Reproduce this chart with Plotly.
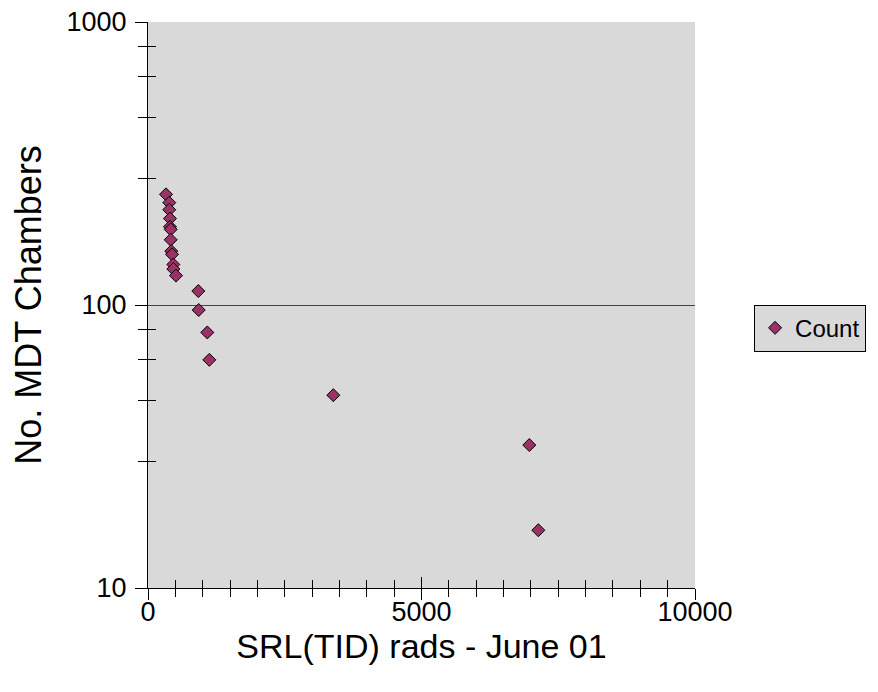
import plotly.graph_objects as go

# Data
srl_rads = [329, 389, 389, 402, 402, 415, 415, 426, 439, 463, 463, 512,
            920, 927, 1084, 1121, 3388, 6971, 7136]
chambers = [246, 230, 217, 202, 189, 185, 170, 155, 151, 139, 134, 127,
            112, 96, 80, 64, 48, 32, 16]
series_name = "Count"

x_major = [0, 5000, 10000]
x_major_text = ["0", "5000", "10000"]
y_major = [10, 100, 1000]
y_major_text = ["10", "100", "1000"]
y_minor = [28, 46, 64, 82, 280, 460, 640, 820]

FONT = "Liberation Sans, Arial, sans-serif"
BG = "#d9d9d9"

fig = go.Figure()
fig.add_trace(go.Scatter(
    x=srl_rads, y=chambers, mode="markers", name=series_name,
    marker=dict(symbol="diamond", size=10, color="#993366",
                line=dict(color="black", width=1)),
))
# invisible overlay trace to carry the opposite-side tick marks
fig.add_trace(go.Scatter(
    x=srl_rads, y=chambers, mode="markers", xaxis="x2", yaxis="y2",
    marker=dict(opacity=0), showlegend=False, hoverinfo="skip",
))

fig.update_layout(
    width=878, height=692,
    margin=dict(l=140, r=191, t=14, b=112),
    paper_bgcolor="white", plot_bgcolor=BG,
    font=dict(family=FONT, color="black", size=27),
    showlegend=True,
    legend=dict(x=1.108, y=0.459, xanchor="left", yanchor="middle",
                bgcolor=BG, bordercolor="black", borderwidth=1,
                font=dict(size=24, family=FONT)),
    xaxis=dict(
        range=[0, 10000], tickmode="array", tickvals=x_major, ticktext=x_major_text,
        ticks="inside", ticklen=11, tickcolor="black", showgrid=False,
        showline=True, linecolor="black", linewidth=1, zeroline=False,
        tickfont=dict(size=27), automargin=False, ticklabeloverflow="allow",
        minor=dict(dtick=500, tick0=0, ticks="inside", ticklen=8, tickcolor="black", showgrid=False),
        title=dict(text="SRL(TID) rads - June 01", font=dict(size=34), standoff=5),
    ),
    yaxis=dict(
        type="log", range=[1, 3], tickmode="array", tickvals=y_major, ticktext=y_major_text,
        ticks="outside", ticklen=12, tickcolor="black", ticklabelstandoff=3,
        showgrid=True, gridcolor="#444444", gridwidth=1,
        showline=True, linecolor="black", linewidth=1, zeroline=False,
        tickfont=dict(size=27), automargin=False, ticklabeloverflow="allow",
        minor=dict(tickmode="array", tickvals=y_minor, ticks="outside", ticklen=9,
                   tickcolor="black", showgrid=False),
        title=dict(text="No. MDT Chambers", font=dict(size=36), standoff=29),
    ),
    xaxis2=dict(
        overlaying="x", side="bottom", anchor="y", range=[0, 10000], tickmode="array",
        tickvals=x_major, showticklabels=False, ticks="outside", ticklen=11, tickcolor="black",
        showgrid=False, zeroline=False, showline=False, automargin=False,
        minor=dict(dtick=500, tick0=0, ticks="outside", ticklen=8, tickcolor="black", showgrid=False),
    ),
    yaxis2=dict(
        overlaying="y", side="left", anchor="x", type="log", range=[1, 3], tickmode="array",
        tickvals=y_major, showticklabels=False, ticks="", showgrid=False, zeroline=False,
        showline=False, automargin=False,
        minor=dict(tickmode="array", tickvals=y_minor, ticks="inside", ticklen=8,
                   tickcolor="black", showgrid=False),
    ),
)

fig.write_html("out.html")
